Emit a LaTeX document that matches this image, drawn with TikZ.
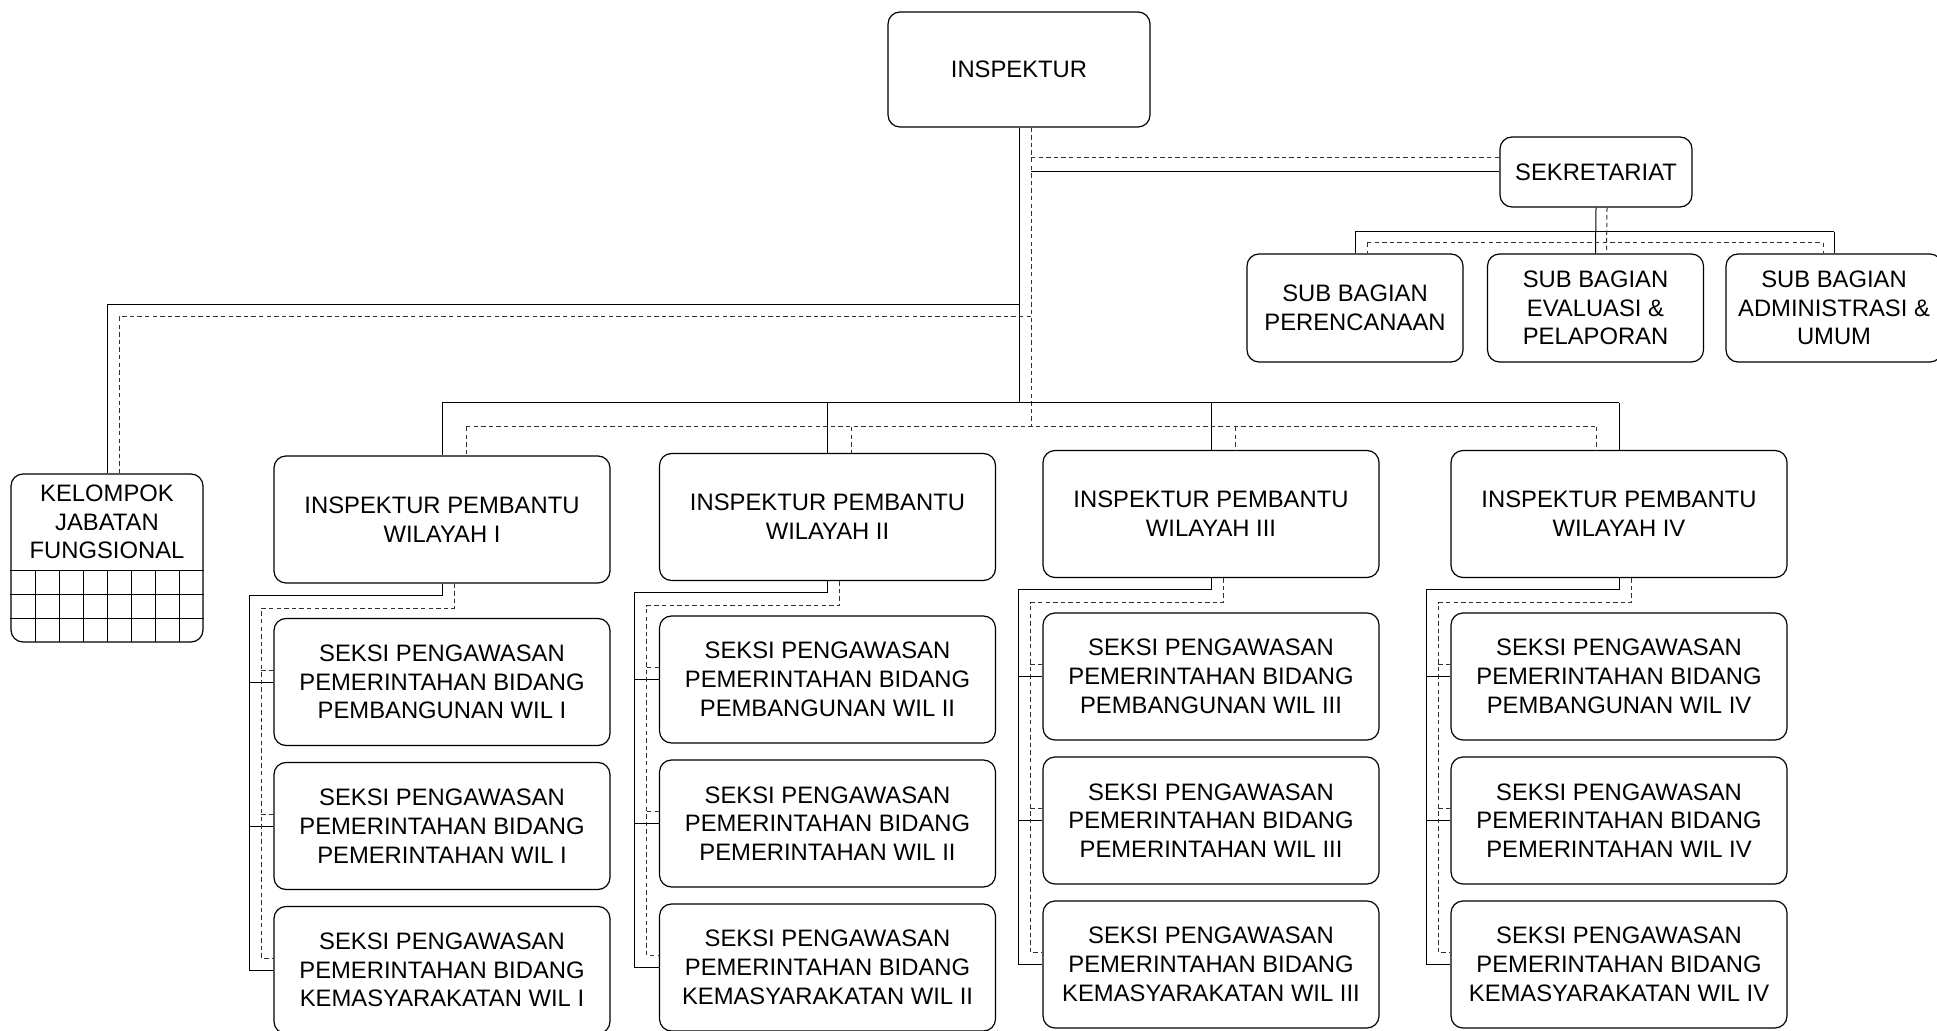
\documentclass[tikz,border=0pt]{standalone}
\usepackage{fontspec}
\setmainfont{Liberation Sans}
\begin{document}
\begin{tikzpicture}[x=0.5pt,y=-0.5pt,
    box/.style={draw,rounded corners=6pt,line width=0.6pt,align=center,inner sep=0pt,font=\fontsize{11.9}{14.4}\selectfont},
    unit/.style={box,minimum width=168pt,minimum height=63.5pt},
    subbox/.style={box,minimum width=108pt,minimum height=54pt},
    solidline/.style={line width=0.5pt},
    dashline/.style={line width=0.5pt,black!80,dash pattern=on 2.2pt off 1.6pt}]
\useasboundingbox (0,0) rectangle (1937,1031);
\node[box,minimum width=131pt,minimum height=57.5pt] (insp) at (1019,69.5) {INSPEKTUR};
\node[box,minimum width=96pt,minimum height=35pt] (sekr) at (1596,172) {SEKRETARIAT};
\node[subbox] (renc) at (1355,308) {SUB BAGIAN\\PERENCANAAN};
\node[subbox] (eval) at (1595.5,308) {SUB BAGIAN\\EVALUASI \&\\PELAPORAN};
\node[subbox] (adm) at (1834,308) {SUB BAGIAN\\ADMINISTRASI \&\\UMUM};
\node[box,minimum width=96pt,minimum height=84pt] (kjf) at (107,558) {};
\node[align=center,inner sep=0pt,font=\fontsize{11.9}{14.4}\selectfont] (kjftext) at (107,522) {KELOMPOK\\JABATAN\\FUNGSIONAL};
\draw[line width=0.5pt] (kjf.west |- 0,570) -- (kjf.east |- 0,570)
    (kjf.west |- 0,594) -- (kjf.east |- 0,594)
    (kjf.west |- 0,618) -- (kjf.east |- 0,618);
\foreach \k in {35,59,...,179}
    \draw[line width=0.5pt] (\k,570) -- (\k,642);
\foreach \i/\x/\y/\r in {1/442/519.5/I,2/827.5/517/II,3/1211/514/III,4/1619/514/IV}{
    \node[unit] (pb\i) at (\x,\y) {INSPEKTUR PEMBANTU\\WILAYAH \r};
    \node[unit] (bang\i) at (\x,\y+162.5) {SEKSI PENGAWASAN\\PEMERINTAHAN BIDANG\\PEMBANGUNAN WIL \r};
    \node[unit] (prth\i) at (\x,\y+306.5) {SEKSI PENGAWASAN\\PEMERINTAHAN BIDANG\\PEMERINTAHAN WIL \r};
    \node[unit] (kmsy\i) at (\x,\y+450.5) {SEKSI PENGAWASAN\\PEMERINTAHAN BIDANG\\KEMASYARAKATAN WIL \r};
    \draw[solidline] (pb\i.south) -- ++(0,11.5) -| ([xshift=-12pt]kmsy\i.west) -- (kmsy\i.west);
    \draw[solidline] ([xshift=-12pt]bang\i.west) -- (bang\i.west);
    \draw[solidline] ([xshift=-12pt]prth\i.west) -- (prth\i.west);
    \draw[dashline] ([xshift=6pt]pb\i.south) -- ++(0,24.5) -| ([xshift=-6pt,yshift=6pt]kmsy\i.west) -- ([yshift=6pt]kmsy\i.west);
    \draw[dashline] ([xshift=-6pt,yshift=6pt]bang\i.west) -- ([yshift=6pt]bang\i.west);
    \draw[dashline] ([xshift=-6pt,yshift=6pt]prth\i.west) -- ([yshift=6pt]prth\i.west);
}
\draw[solidline] (insp.south) -- (insp.south |- 0,403);
\draw[dashline] ([xshift=6pt]insp.south) -- ([xshift=6pt]insp.south |- 0,427);
\draw[solidline] ([xshift=6pt]insp.south |- sekr.west) -- (sekr.west);
\draw[dashline] ([xshift=6pt]insp.south |- 0,158) -- (sekr.west |- 0,158);
\draw[solidline] (insp.south |- 0,305) -| (kjf.north);
\draw[dashline] ([xshift=6pt]insp.south |- 0,317) -| ([xshift=6pt]kjf.north);
\draw[solidline] (pb1.north |- 0,403) -- (pb4.north |- 0,403);
\foreach \i in {1,...,4}
    \draw[solidline] (pb\i.north |- 0,403) -- (pb\i.north);
\draw[dashline] ([xshift=12pt]pb1.north |- 0,427) -- ([xshift=-11.5pt]pb4.north |- 0,427);
\foreach \i in {1,2,3}
    \draw[dashline] ([xshift=12pt]pb\i.north |- 0,427) -- ([xshift=12pt]pb\i.north);
\draw[dashline] ([xshift=-11.5pt]pb4.north |- 0,427) -- ([xshift=-11.5pt]pb4.north);
\draw[solidline] (sekr.south) -- (eval.north);
\draw[solidline] (renc.north |- 0,232) -- (adm.north |- 0,232);
\draw[solidline] (renc.north |- 0,232) -- (renc.north);
\draw[solidline] (adm.north |- 0,232) -- (adm.north);
\draw[dashline] ([xshift=5.5pt]sekr.south) -- ([xshift=5.5pt]eval.north);
\draw[dashline] ([xshift=6pt]renc.north |- 0,243) -- ([xshift=-5.5pt]adm.north |- 0,243);
\draw[dashline] ([xshift=6pt]renc.north |- 0,243) -- ([xshift=6pt]renc.north);
\draw[dashline] ([xshift=-5.5pt]adm.north |- 0,243) -- ([xshift=-5.5pt]adm.north);
\end{tikzpicture}
\end{document}
